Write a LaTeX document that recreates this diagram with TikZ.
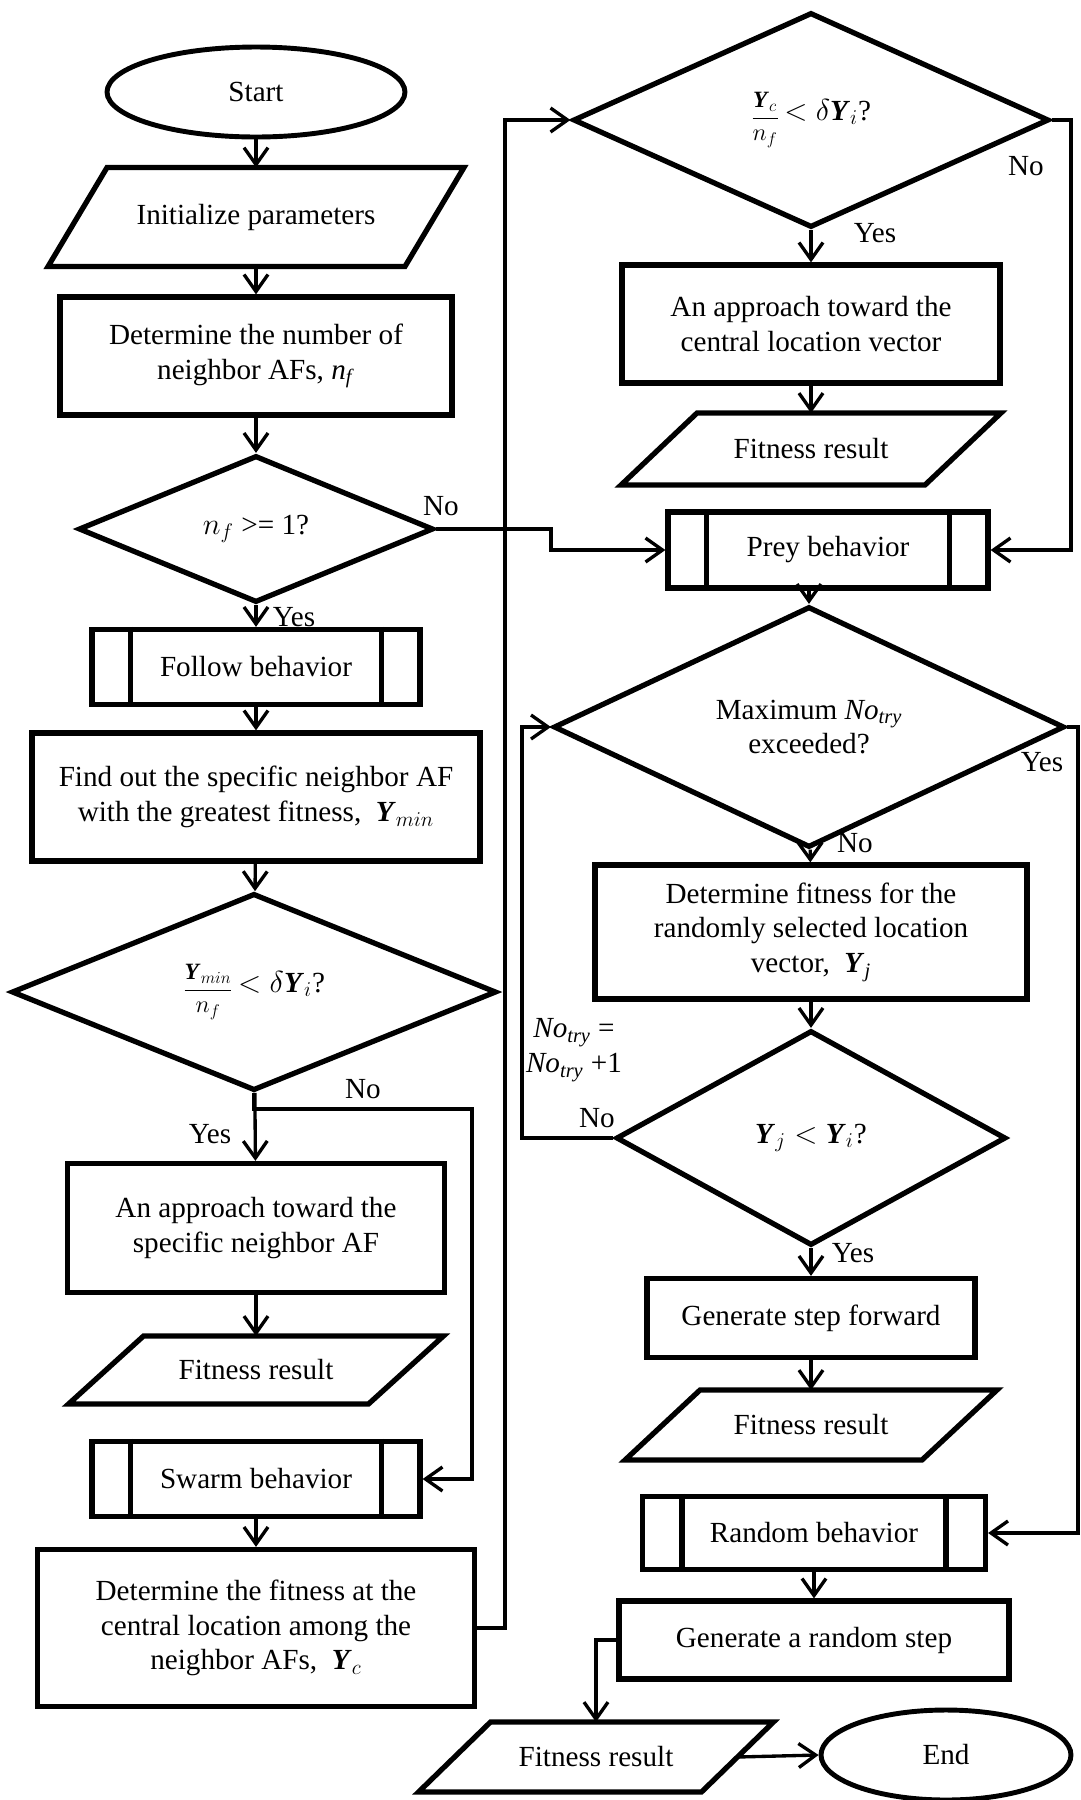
\documentclass[tikz,border=0pt]{standalone}
\usepackage{amsmath}
\usepackage{graphicx}
\usepackage{fontspec}
\setmainfont{Liberation Serif}
\usepackage{tikz}
\usetikzlibrary{arrows.meta}
\usetikzlibrary{shapes.geometric}

\begin{document}
\begin{tikzpicture}[x=0.02cm,y=-0.02cm,>={Straight Barb[length=0.34cm,width=0.48cm]},
  every node/.style={font=\fontsize{16.6}{19.8}\selectfont},
  box/.style={draw,line width=3pt,rectangle,align=center,inner sep=0pt},
  io/.style={rectangle,align=center,inner sep=0pt,outer sep=0pt},
  decision/.style={draw,line width=3pt,diamond,align=center,inner sep=0pt},
  terminal/.style={draw,line width=2.8pt,ellipse,inner sep=0pt},
  edge/.style={line width=3pt},
  arr/.style={->,line width=1.9pt},
  lbl/.style={inner sep=0pt,align=center}]
\useasboundingbox (0,0) rectangle (1081,1800);

\node[terminal,minimum width=5.96cm,minimum height=1.8cm] (start) at (256,92) {Start};
\node[io,minimum width=7.14cm,minimum height=1.98cm] (init) at (256,217) {Initialize parameters};
\node[box,minimum width=7.84cm,minimum height=2.36cm] (detnum) at (256,356) {Determine the number of\\neighbor AFs, \textit{n}\textsubscript{\textit{f}}};
\node[decision,minimum width=7.1cm,minimum height=2.94cm] (nf) at (256,529) {$n_f$ >= 1?};
\node[box,minimum width=6.56cm,minimum height=1.5cm] (follow) at (256,667) {Follow behavior};
\node[box,minimum width=8.96cm,minimum height=2.56cm] (findout) at (256,797) {Find out the specific neighbor AF\\with the greatest fitness,\ \ $\textbf{\textit{Y}}_{min}$};
\node[decision,minimum width=9.7cm,minimum height=3.7cm] (ymin) at (254,992) {\raisebox{-0.3ex}{\scalebox{0.8}{$\dfrac{\textbf{\textit{Y}}_{min}}{n_f}$}}$\,< \delta\textbf{\textit{Y}}_i$?};
\node[box,minimum width=7.54cm,minimum height=2.58cm] (apprN) at (256,1228) {An approach toward the\\specific neighbor AF};
\node[io,minimum width=6cm,minimum height=1.36cm] (fitA) at (256,1370) {Fitness result};
\node[box,minimum width=6.56cm,minimum height=1.5cm] (swarm) at (256,1479) {Swarm behavior};
\node[box,minimum width=8.74cm,minimum height=3.14cm] (central) at (256,1628) {Determine the fitness at the\\central location among the\\neighbor AFs,\ \ $\textbf{\textit{Y}}_c$};

\node[decision,minimum width=9.52cm,minimum height=4.3cm] (yc) at (811,120) {\raisebox{-0.3ex}{\scalebox{0.8}{$\dfrac{\textbf{\textit{Y}}_c}{n_f}$}}$\,< \delta\textbf{\textit{Y}}_i$?};
\node[box,minimum width=7.56cm,minimum height=2.36cm] (apprC) at (811,324) {An approach toward the\\central location vector};
\node[io,minimum width=6.08cm,minimum height=1.44cm] (fitB) at (811,449) {Fitness result};
\node[box,minimum width=6.4cm,minimum height=1.52cm] (prey) at (828,550) {Prey behavior};
\node[decision,minimum width=10.22cm,minimum height=4.34cm] (max) at (809,727) {Maximum \textit{No}\textsubscript{\textit{try}}\\exceeded?};
\node[box,minimum width=8.64cm,minimum height=2.68cm] (detfit) at (811,932) {Determine fitness for the\\randomly selected location\\vector,\ \ \textbf{\textit{Y}}\textsubscript{\textit{j}}};
\node[decision,minimum width=7.8cm,minimum height=4.3cm] (yj) at (811,1138) {$\textbf{\textit{Y}}_j < \textbf{\textit{Y}}_i$?};
\node[box,minimum width=6.56cm,minimum height=1.58cm] (gensf) at (811,1318) {Generate step forward};
\node[io,minimum width=5.94cm,minimum height=1.4cm] (fitC) at (811,1425) {Fitness result};
\node[box,minimum width=6.86cm,minimum height=1.46cm] (random) at (814,1533) {Random behavior};
\node[box,minimum width=7.8cm,minimum height=1.56cm] (genr) at (814,1640) {Generate a random step};
\node[io,minimum width=5.66cm,minimum height=1.4cm] (fitD) at (596,1757) {Fitness result};
\node[terminal,minimum width=5cm,minimum height=1.8cm] (end) at (946,1755) {End};

\foreach \n/\s in {init/0.59cm,fitA/0.75cm,fitB/0.76cm,fitC/0.75cm,fitD/0.72cm}
  \draw[edge] ([xshift=\s]\n.north west) -- ([xshift=\s]\n.north east) -- ([xshift=-\s]\n.south east) -- ([xshift=-\s]\n.south west) -- cycle;
\foreach \n/\d in {follow/0.82cm,swarm/0.82cm,prey/0.82cm,random/0.84cm}
  \draw[edge] ([xshift=\d]\n.north west) -- ([xshift=\d]\n.south west) ([xshift=-\d]\n.north east) -- ([xshift=-\d]\n.south east);

\coordinate (swj) at (472,1109);
\coordinate (cj) at (505,0);
\coordinate (nfj) at (551,0);
\coordinate (ycj) at (1071,0);
\coordinate (maxj) at (1078,0);
\coordinate (loopj) at (522,0);

\draw[arr] (start) -- (init);
\draw[arr] (init) -- (detnum);
\draw[arr] (detnum) -- (nf);
\draw[arr] (nf) -- (follow);
\draw[arr] (follow) -- (findout);
\draw[arr] (findout) -- (ymin);
\draw[arr] (ymin) -- (apprN);
\draw[arr] (ymin.south) |- (swj) |- (swarm.east);
\draw[arr] (apprN) -- (fitA);
\draw[arr] (swarm) -- (central);
\draw[arr] (central.east) -| (cj |- yc.west) -- (yc.west);
\draw[arr] (nf.east) -| (nfj |- prey.west) -- (prey.west);
\draw[arr] (yc) -- (apprC);
\draw[arr] (yc.east) -| (ycj |- prey.east) -- (prey.east);
\draw[arr] (apprC) -- (fitB);
\draw[arr] (prey.south -| max) -- (max);
\draw[arr] (max) -- (detfit);
\draw[arr] (max.east) -| (maxj |- random.east) -- (random.east);
\draw[arr] (detfit) -- (yj);
\draw[arr] (yj.west) -| (loopj |- max.west) -- (max.west);
\draw[arr] (yj) -- (gensf);
\draw[arr] (gensf) -- (fitC);
\draw[arr] (random) -- (genr);
\draw[arr] (genr.west) -| (fitD.north);
\draw[arr] (fitD.east) -- (end.west);

\node[lbl] (nfno) at (441,506) {No};
\node[lbl] (nfyes) at (294,617) {Yes};
\node[lbl] (yminno) at (363,1089) {No};
\node[lbl] (yminyes) at (210,1134) {Yes};
\node[lbl] (ycno) at (1026,166) {No};
\node[lbl] (ycyes) at (875,233) {Yes};
\node[lbl] (maxyes) at (1042,762) {Yes};
\node[lbl] (maxno) at (855,843) {No};
\node[lbl] (yjno) at (597,1118) {No};
\node[lbl] (yjyes) at (853,1253) {Yes};
\node[lbl] (notry) at (574,1050) {\textit{No}\textsubscript{\textit{try}} =\\\textit{No}\textsubscript{\textit{try}} +1};
\end{tikzpicture}
\end{document}
